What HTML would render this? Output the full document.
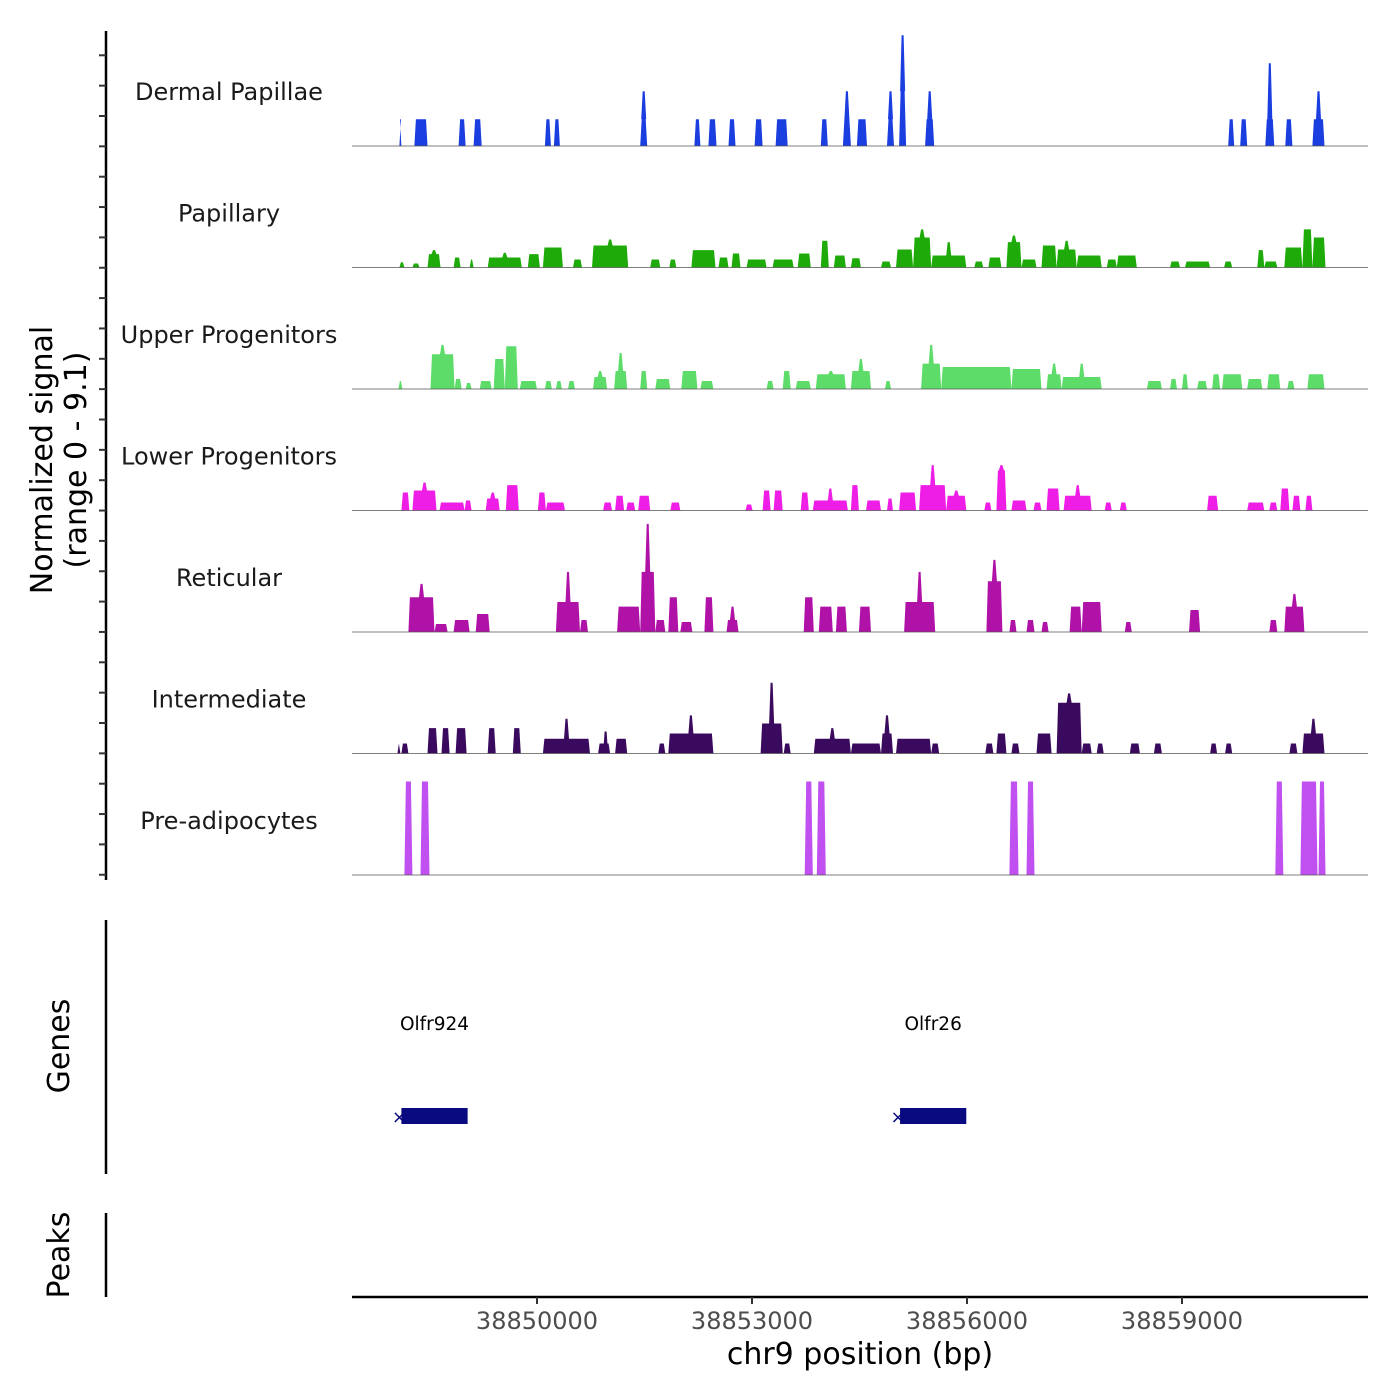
<!DOCTYPE html>
<html><head><meta charset="utf-8"><style>
body{margin:0;background:#fff;}
svg{display:block;font-family:"DejaVu Sans","Liberation Sans",sans-serif;}
</style></head><body>
<svg id="chart" width="1400" height="1400" viewBox="0 0 1400 1400" xmlns="http://www.w3.org/2000/svg"></svg>
<script>
const regionStart = 38847000;
const xTicks = [38850000, 38853000, 38856000, 38859000];
const xTickLabels = ["38850000", "38853000", "38856000", "38859000"];
const trackNames = ["Dermal Papillae","Papillary","Upper Progenitors","Lower Progenitors","Reticular","Intermediate","Pre-adipocytes"];
const trackColors = ["#1a3ee0","#1eab0a","#5ddc6a","#ee1ee6","#b012a8","#3a0a5e","#c050f0"];
const yMax = 9.1;
// segments: [startOffsetBp, endOffsetBp, value, peakValue?]
const dermal = [[1080,1108,2.0],[1290,1472,2.0],[1906,2004,2.0],[2116,2228,2.0],[3110,3194,2.0],[3236,3320,2.0],[4440,4538,2.0,4.1],[5196,5280,2.0],[5392,5504,2.0],[5672,5770,2.0],[6036,6148,2.0],[6330,6498,2.0],[6960,7058,2.0],[7268,7380,2.0,4.1],[7464,7604,2.0],[7884,7982,2.0,4.1],[8052,8150,4.1,8.3],[8416,8542,2.0,4.1],[12644,12728,2.0],[12812,12910,2.0],[13162,13288,2.0,6.2],[13442,13540,2.0],[13820,13988,2.0,4.1]];
const papillary = [[1080,1150,0.4],[1262,1360,0.3],[1472,1654,1.0,1.3],[1836,1934,0.75],[2060,2116,0.6],[2312,2788,0.75,1.1],[2872,3040,1.0],[3082,3362,1.5],[3502,3628,0.6],[3768,4272,1.65,2.1],[4580,4720,0.6],[4846,4944,0.6],[5154,5490,1.3],[5532,5672,0.75],[5714,5840,1.05],[5924,6204,0.6],[6288,6582,0.6],[6638,6820,1.05],[6960,7072,2.0],[7142,7310,0.9],[7380,7520,0.7],[7800,7940,0.45],[8010,8248,1.35],[8248,8500,2.25,2.85],[8500,8990,0.9,1.9],[9102,9228,0.45],[9298,9480,0.75],[9550,9760,1.9,2.4],[9760,9970,0.6],[10040,10250,1.65],[10250,10530,1.35,2.0],[10530,10880,0.9],[10950,11090,0.6],[11090,11370,0.9],[11832,11972,0.45],[12042,12392,0.45],[12588,12700,0.45],[13050,13148,1.3],[13148,13330,0.45],[13428,13680,1.5],[13680,13820,2.85],[13820,14002,2.25]];
const upper = [[1066,1122,0.6],[1514,1850,2.6,3.3],[1850,1948,0.75],[2004,2088,0.45],[2200,2368,0.6],[2396,2550,2.25],[2550,2732,3.2],[2760,2998,0.6],[3110,3208,0.6],[3264,3348,0.6],[3432,3530,0.6],[3782,3978,0.9,1.35],[4076,4258,1.35,2.7],[4440,4538,1.35],[4650,4860,0.75],[5014,5238,1.35],[5280,5462,0.6],[6204,6302,0.6],[6428,6540,1.35],[6610,6820,0.6],[6890,7310,1.1,1.35],[7380,7660,1.35,2.25],[7856,7940,0.6],[8360,8640,1.9,3.3],[8640,9620,1.65],[9620,10040,1.5],[10110,10320,1.1,1.9],[10320,10880,0.9,1.9],[11510,11720,0.6],[11832,11930,0.75],[12000,12084,1.1],[12210,12350,0.6],[12420,12532,1.1],[12560,12840,1.1],[12910,13120,0.75],[13190,13372,1.1],[13470,13568,0.6],[13750,13988,1.1]];
const lower = [[1108,1220,1.35],[1262,1598,1.5,2.1],[1640,1990,0.6],[1990,2088,0.75],[2284,2480,0.9,1.35],[2564,2746,1.9],[3012,3124,1.35],[3124,3390,0.6],[3922,4048,0.6],[4090,4216,1.1],[4244,4370,0.6],[4412,4580,1.1],[4860,5000,0.6],[5910,6008,0.45],[6148,6260,1.5],[6302,6428,1.5],[6680,6792,1.35],[6848,7338,0.75,1.65],[7380,7492,1.9],[7590,7800,0.75],[7884,7968,0.9],[8052,8290,1.35],[8332,8710,1.9,3.4],[8710,8990,1.1,1.5],[9242,9340,0.6],[9410,9550,3.0,3.4],[9620,9830,0.75],[9928,10040,0.6],[10110,10292,1.65],[10348,10740,1.1,1.9],[10922,11020,0.6],[11132,11230,0.6],[12350,12504,1.1],[12910,13148,0.6],[13218,13330,0.6],[13372,13498,1.65],[13540,13652,1.1],[13722,13820,1.1]];
const reticular = [[1206,1570,2.6,3.6],[1570,1752,0.6],[1836,2060,0.9],[2144,2340,1.35],[3264,3600,2.25,4.5],[3600,3712,0.9],[4118,4440,1.9],[4440,4650,4.5,8.1],[4650,4790,0.9],[4832,4972,2.6],[5000,5168,0.75],[5336,5462,2.6],[5644,5812,0.9,1.9],[6722,6862,2.6],[6932,7128,1.9],[7170,7324,1.9],[7492,7660,1.9],[8122,8556,2.25,4.5],[9270,9494,3.8,5.4],[9592,9690,0.9],[9830,9942,0.9],[10040,10138,0.75],[10432,10600,1.9],[10600,10880,2.25],[11202,11300,0.75],[12098,12252,1.65],[13218,13330,0.9],[13428,13708,1.9,2.85]];
const intermediate = [[1052,1094,0.75],[1108,1206,0.75],[1472,1612,1.9],[1668,1780,1.9],[1864,2018,1.9],[2312,2424,1.9],[2662,2774,1.9],[3082,3740,1.1,2.6],[3852,4020,0.75],[3922,3992,1.65],[4090,4258,1.1],[4692,4790,0.75],[4832,5462,1.5,2.85],[6120,6428,2.25,5.3],[6442,6540,0.75],[6862,7380,1.1,1.9],[7380,7800,0.75],[7800,7968,1.5,2.85],[8010,8500,1.1],[8500,8612,0.75],[9256,9368,0.75],[9410,9550,1.5],[9620,9732,0.75],[9970,10180,1.5],[10250,10600,3.8,4.5],[10600,10740,0.75],[10810,10908,0.75],[11272,11412,0.75],[11608,11720,0.75],[12392,12490,0.75],[12602,12700,0.75],[13498,13610,0.75],[13680,13988,1.5,2.6]];
const preadipo = [[1150,1262,7.0],[1374,1500,7.0],[6736,6848,7.0],[6904,7030,7.0],[9592,9718,7.0],[9830,9942,7.0],[13302,13414,7.0],[13652,13890,7.0],[13904,14002,7.0]];
const trackData = [dermal,papillary,upper,lower,reticular,intermediate,preadipo];
const geneNames = ["Olfr924","Olfr26"];
const geneStarts = [1108, 8066];
const geneEnds = [2032, 8990];

const NS="http://www.w3.org/2000/svg";
const svg=document.getElementById('chart');
function mk(tag,attrs,parent){const e=document.createElementNS(NS,tag);for(const k in attrs)e.setAttribute(k,attrs[k]);(parent||svg).appendChild(e);return e;}
const plotL=352, plotR=1368;
function xScale(bp){return 537+(bp-38850000)*(215/3000);}
const trackH=121.5, firstBase=146;
function yScale(v,base){return base - v/yMax*trackH;}

trackData.forEach((segs,ti)=>{
  const base=firstBase+ti*trackH;
  const g=mk('g',{});
  
  
  segs.forEach((s,si)=>{
    const x1=xScale(regionStart+s[0]), x2=xScale(regionStart+s[1]);
    const yt=yScale(s[2],base);
    let pts=[[x1,base],[x1+1.5,yt]];
    if(s.length>3){const m=(x1+x2)/2;pts.push([m-2.5,yt],[m-1,yScale(s[3],base)],[m+1,yScale(s[3],base)],[m+2.5,yt]);}
    pts.push([x2-1.5,yt],[x2,base]);
    const p=mk('polygon',{points:pts.map(q=>q[0].toFixed(1)+','+q[1].toFixed(1)).join(' '),fill:trackColors[ti]},g);
    
    
  });
  const bl=mk('line',{x1:plotL,x2:plotR,y1:base,y2:base,stroke:'#555','stroke-width':0.8});
  
  
  const lab=mk('text',{x:229,y:base-46,'font-size':24,'text-anchor':'middle',fill:'#1a1a1a'});
  lab.textContent=trackNames[ti];
  
  
});

const ya=mk('line',{x1:106,x2:106,y1:31,y2:880,stroke:'#000','stroke-width':2.5});


for(let y=55.3;y<=880;y+=30.35){const t=mk('line',{x1:99,x2:106,y1:y,y2:y,stroke:'#333','stroke-width':2});
 
 }
const yt=mk('text',{transform:'translate(52,460) rotate(-90)','text-anchor':'middle','font-size':30,fill:'#000'});


yt.innerHTML='<tspan x="0" dy="0">Normalized signal</tspan><tspan x="0" dy="34">(range 0 - 9.1)</tspan>';

const gl=mk('line',{x1:106,x2:106,y1:920,y2:1174,stroke:'#000','stroke-width':2.5});


const gt=mk('text',{transform:'translate(69,1046) rotate(-90)','text-anchor':'middle','font-size':30});
gt.textContent='Genes';


geneNames.forEach((n,i)=>{
  const x1=xScale(regionStart+geneStarts[i]), x2=xScale(regionStart+geneEnds[i]);
  const r=mk('rect',{x:x1,y:1108,width:x2-x1,height:16,fill:'#0a0a80'});
  
  
  const m=mk('text',{x:x1-2,y:1123,'font-size':18,'text-anchor':'middle',fill:'#0a0a80'});
  m.textContent='×';
  
  
  const l=mk('text',{x:(x1+x2)/2,y:1030,'font-size':18.5,'text-anchor':'middle',fill:'#000'});
  l.textContent=n;
  
  
});

const pl=mk('line',{x1:106,x2:106,y1:1213,y2:1297,stroke:'#000','stroke-width':2.5});


const pt=mk('text',{transform:'translate(69,1255) rotate(-90)','text-anchor':'middle','font-size':30});
pt.textContent='Peaks';



const xa=mk('line',{x1:plotL,x2:plotR,y1:1297,y2:1297,stroke:'#000','stroke-width':2.5});


xTicks.forEach((v,i)=>{
  const x=xScale(v);
  const t=mk('line',{x1:x,x2:x,y1:1297,y2:1304,stroke:'#333','stroke-width':2});
  
  
  const l=mk('text',{x:x,y:1329,'font-size':24,'text-anchor':'middle',fill:'#4d4d4d'});
  l.textContent=xTickLabels[i];
  
  
});
const xt=mk('text',{x:860,y:1364,'font-size':30,'text-anchor':'middle'});
xt.textContent='chr9 position (bp)';


</script>
</body></html>
